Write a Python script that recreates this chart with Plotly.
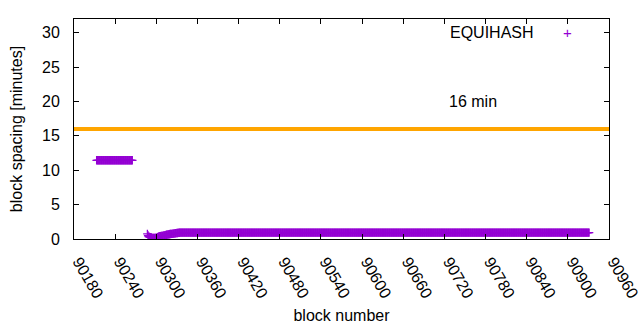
import plotly.graph_objects as go

# ---- data ----
seg1_start, seg1_end, seg1_value = 90213, 90265, 11.45
trans_start = 90287
trans_values = [0.75, 0.50, 0.35, 0.30, 0.28, 0.25, 0.18, 0.15, 0.14, 0.14,
                0.15, 0.15, 0.16, 0.18, 0.20, 0.28, 0.35, 0.38, 0.40, 0.42,
                0.44, 0.45, 0.46, 0.48, 0.50, 0.52, 0.55, 0.58, 0.62, 0.64,
                0.66, 0.68, 0.70, 0.72, 0.73, 0.74, 0.75, 0.76, 0.78, 0.80,
                0.82, 0.84, 0.86, 0.87, 0.88, 0.89, 0.90, 0.91]
seg3_start, seg3_end, seg3_value = 90335, 90931, 0.93

limit_x = [90180, 90960]
limit_y = [16, 16]
limit_label = "16 min"
series_name = "EQUIHASH"

x_ticks = list(range(90180, 90961, 60))
y_ticks = [0, 5, 10, 15, 20, 25, 30]

blocks = list(range(seg1_start, seg1_end + 1))
spacing = [seg1_value] * len(blocks)
blocks += list(range(trans_start, trans_start + len(trans_values)))
spacing += trans_values
b3 = list(range(seg3_start, seg3_end + 1))
blocks += b3
spacing += [seg3_value] * len(b3)

PURPLE = "#9400D3"
ORANGE = "#FFA500"
FONT = "Liberation Sans, Arial, sans-serif"
FS = 16

fig = go.Figure()
fig.add_trace(go.Scatter(
    x=limit_x, y=limit_y, mode="lines",
    line=dict(color=ORANGE, width=4), showlegend=False, hoverinfo="skip"))
fig.add_trace(go.Scatter(
    x=blocks, y=spacing, mode="markers", name=series_name, opacity=1,
    marker=dict(symbol="cross-thin", size=6, opacity=1,
                line=dict(color=PURPLE, width=1.3), color=PURPLE),
    showlegend=False))

fig.add_annotation(x=90724, y=20, text=limit_label, showarrow=False,
                   xanchor="left", yanchor="middle",
                   font=dict(size=FS, color="black", family=FONT))
fig.add_annotation(x=0.864, y=30, xref="paper", yref="y", text=series_name,
                   showarrow=False, xanchor="right", yanchor="middle",
                   font=dict(size=FS, color="black", family=FONT))
fig.add_annotation(x=0.923, y=30, xref="paper", yref="y", text="+",
                   showarrow=False, xanchor="center", yanchor="middle",
                   font=dict(size=15, color=PURPLE, family=FONT))

axis_common = dict(
    showline=True, linecolor="black", linewidth=1, mirror="ticks",
    ticks="inside", ticklen=5, tickcolor="black", tickwidth=1,
    showgrid=False, zeroline=False, automargin=False,
    tickfont=dict(size=FS, color="black", family=FONT),
)

fig.update_xaxes(range=[90180, 90960], tickvals=x_ticks, tickangle=60,
                 tickformat="d", ticklabeloverflow="allow",
                 title=dict(text="block number", standoff=9,
                            font=dict(size=FS, color="black", family=FONT)),
                 ticklabelstandoff=6, ticklabelshift=5, **axis_common)
fig.update_yaxes(range=[0, 32], tickvals=y_ticks,
                 title=dict(text="block spacing [minutes]", standoff=15,
                            font=dict(size=FS, color="black", family=FONT)),
                 ticklabelstandoff=10, **axis_common)

fig.update_layout(
    width=640, height=330,
    margin=dict(l=74, r=31, t=19, b=91),
    plot_bgcolor="white", paper_bgcolor="white",
    showlegend=False,
)

fig.write_html("out.html", config={"displayModeBar": False},
               post_script="document.body.style.margin='0';")
